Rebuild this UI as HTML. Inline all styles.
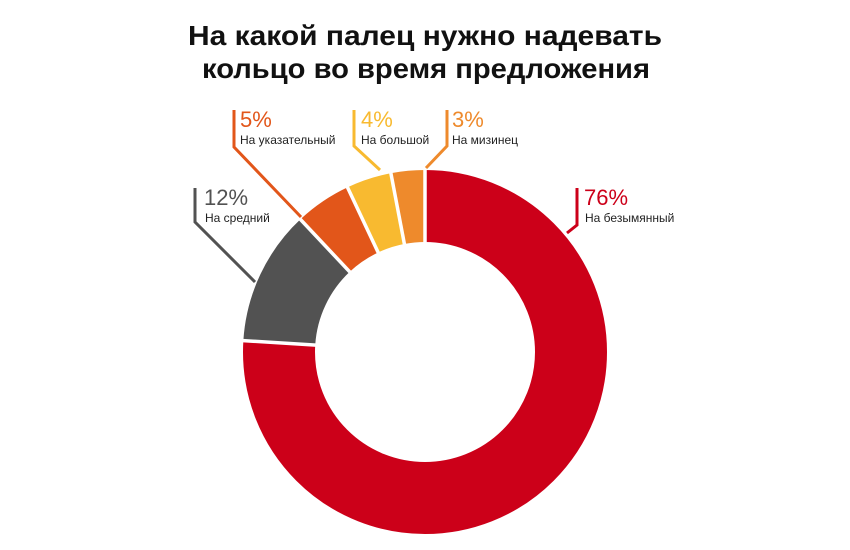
<!DOCTYPE html>
<html><head><meta charset="utf-8"><style>
html,body{margin:0;padding:0;background:#fff}
svg{display:block}
text{font-family:"Liberation Sans","DejaVu Sans",sans-serif}
</style></head><body>
<svg width="850" height="550" viewBox="0 0 850 550" xmlns="http://www.w3.org/2000/svg">
<text x="425" y="45" text-anchor="middle" font-size="28" font-weight="bold" fill="#111" textLength="474" lengthAdjust="spacingAndGlyphs">На какой палец нужно надевать</text>
<text x="426" y="78" text-anchor="middle" font-size="28" font-weight="bold" fill="#111" textLength="448" lengthAdjust="spacingAndGlyphs">кольцо во время предложения</text>
<g transform="rotate(-90 425 352)" fill="none" stroke-width="72">
<circle cx="425" cy="352" r="146" stroke="#CC0019" stroke-dasharray="697.19 1000" stroke-dashoffset="0"/>
<circle cx="425" cy="352" r="146" stroke="#525252" stroke-dasharray="110.08 1000" stroke-dashoffset="-697.19"/>
<circle cx="425" cy="352" r="146" stroke="#E2561A" stroke-dasharray="45.87 1000" stroke-dashoffset="-807.27"/>
<circle cx="425" cy="352" r="146" stroke="#F8BA30" stroke-dasharray="36.69 1000" stroke-dashoffset="-853.14"/>
<circle cx="425" cy="352" r="146" stroke="#EE8A2C" stroke-dasharray="27.52 1000" stroke-dashoffset="-889.83"/>
</g>
<g stroke="#fff" stroke-width="3.5">
<line x1="425" y1="352" x2="425" y2="162"/>
<line x1="425" y1="352" x2="235.4" y2="340.1"/>
<line x1="425" y1="352" x2="294.9" y2="213.5"/>
<line x1="425" y1="352" x2="344.1" y2="180.1"/>
<line x1="425" y1="352" x2="389.4" y2="165.4"/>
</g>
<g fill="none" stroke-width="3">
<polyline points="577,188 577,225 567,233" stroke="#CC0019"/>
<polyline points="447,110 447,146 426,168" stroke="#EE8A2C"/>
<polyline points="354,110 354,146 380,170" stroke="#F8BA30"/>
<polyline points="234,110 234,147 301,217" stroke="#E2561A"/>
<polyline points="195,188 195,222 255,282" stroke="#525252"/>
</g>
<g font-size="22">
<text x="584" y="205" fill="#CC0019">76%</text>
<text x="452" y="127" fill="#EE8A2C">3%</text>
<text x="361" y="127" fill="#F8BA30">4%</text>
<text x="240" y="127" fill="#E2561A">5%</text>
<text x="204" y="205" fill="#525252">12%</text>
</g>
<g font-size="12" fill="#222">
<text x="585" y="222">На безымянный</text>
<text x="452" y="144">На мизинец</text>
<text x="361" y="144">На большой</text>
<text x="240" y="144">На указательный</text>
<text x="205" y="222">На средний</text>
</g>
</svg>
</body></html>
